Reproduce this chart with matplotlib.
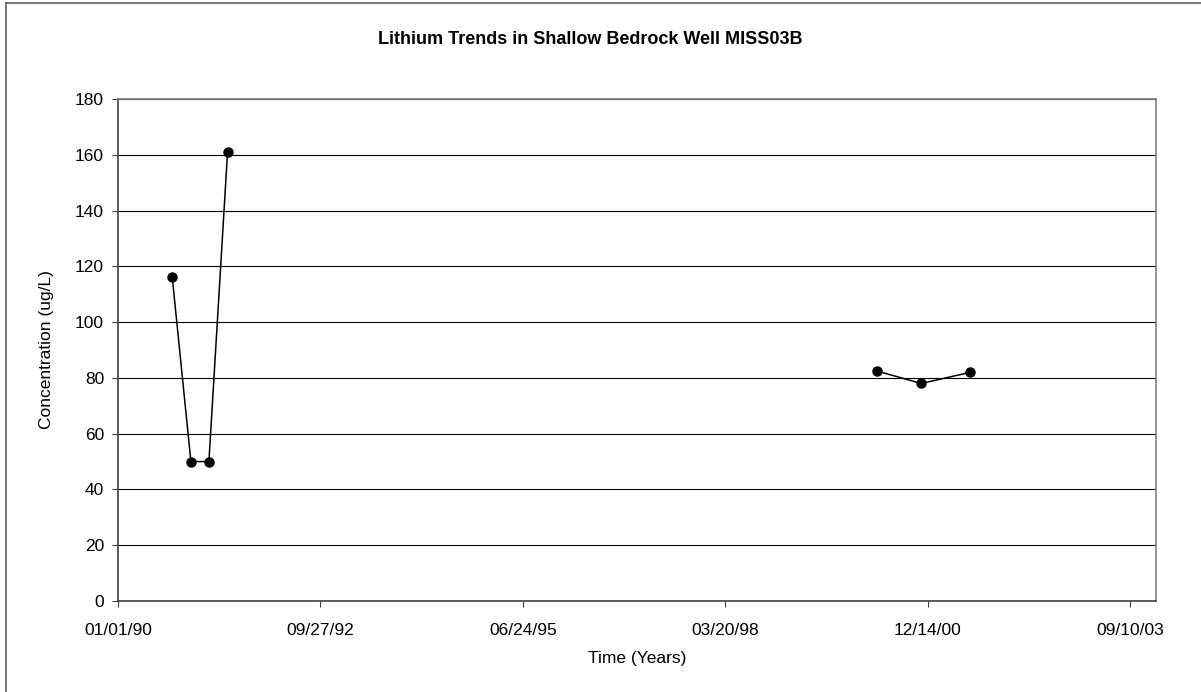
import matplotlib
matplotlib.use("Agg")
import matplotlib.pyplot as plt
from matplotlib.lines import Line2D
import datetime as dt

# Data
dates = ["1990-09-26", "1990-12-27", "1991-03-26", "1991-06-26",
         "2000-04-04", "2000-11-11", "2001-07-11"]
values = [116, 50, 50, 161, 82.5, 78, 82]
segments = [(0, 4), (4, 7)]  # gap between sampling periods

xtick_labels = ["01/01/90", "09/27/92", "06/24/95", "03/20/98", "12/14/00", "09/10/03"]
yticks = [0, 20, 40, 60, 80, 100, 120, 140, 160, 180]

title = "Lithium Trends in Shallow Bedrock Well MISS03B"
xlabel = "Time (Years)"
ylabel = "Concentration (ug/L)"

plt.rcParams['font.family'] = ['Liberation Sans', 'DejaVu Sans']

W, H = 1201, 692
fig = plt.figure(figsize=(W / 100, H / 100), dpi=100)
left, right, top, bottom = 118, 1156, 99, 601
ax = fig.add_axes([left / W, 1 - bottom / H, (right - left) / W, (bottom - top) / H])

xd = [dt.datetime.strptime(d, "%Y-%m-%d") for d in dates]
for s, e in segments:
    ax.plot(xd[s:e], values[s:e], color='black', lw=1.1, marker='o',
            markersize=6.5, markerfacecolor='black', markeredgecolor='black')

start = dt.datetime(1990, 1, 1)
xticks = [start + dt.timedelta(days=1000 * i) for i in range(len(xtick_labels))]
ax.set_xlim(start, start + dt.timedelta(days=5126))
ax.set_xticks(xticks)
ax.set_xticklabels(xtick_labels)
ax.set_ylim(0, 180)
ax.set_yticks(yticks)
ax.set_yticklabels([str(v) for v in yticks])

ax.grid(axis='y', color='black', lw=0.8)
ax.set_axisbelow(True)
for side in ['top', 'right']:
    ax.spines[side].set_color('#808080')
    ax.spines[side].set_linewidth(1.2)
for side in ['left', 'bottom']:
    ax.spines[side].set_color('#404040')
    ax.spines[side].set_linewidth(1.2)

ax.tick_params(axis='both', direction='out', length=4, width=0.8, color='#404040',
               labelsize=12.5, pad=6)
ax.tick_params(axis='x', pad=11.5)

ax.set_xlabel(xlabel, fontsize=12.5, labelpad=10)
ax.set_ylabel(ylabel, fontsize=12.5, labelpad=15)
fig.text(590 / W, 1 - 40 / H, title, ha='center', va='center',
         fontsize=13, fontweight='bold')

# outer chart border (top & left visible)
fig.add_artist(Line2D([6 / W, 6 / W], [0, 1 - 3 / H], transform=fig.transFigure,
                      color='#606060', lw=1.2))
fig.add_artist(Line2D([6 / W, 1], [1 - 3 / H, 1 - 3 / H], transform=fig.transFigure,
                      color='#606060', lw=1.2))

fig.savefig("out.png", dpi=100)
